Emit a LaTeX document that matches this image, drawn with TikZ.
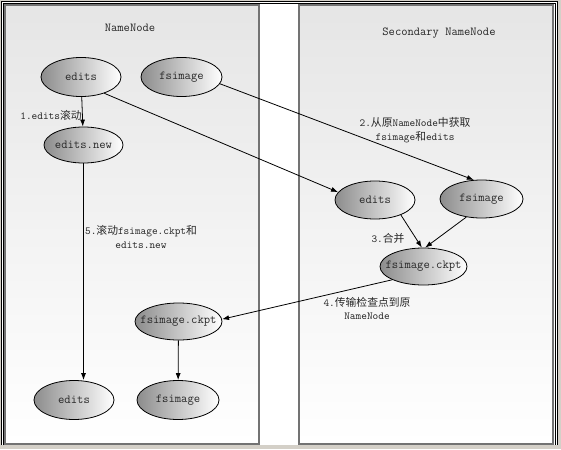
\documentclass[tikz,border=0pt]{standalone}
\usepackage{fontspec}
\newfontfamily\cjk{Noto Sans CJK SC}
\usetikzlibrary{shapes.geometric,arrows.meta}
\definecolor{winbg}{RGB}{212,208,200}
\definecolor{txt}{RGB}{40,40,40}
\tikzset{
  panel/.style={top color=black!10, bottom color=white, draw=black!55, line width=1.4pt},
  ell/.style={ellipse, draw=black, line width=0.8pt, left color=black!45, right color=white, inner sep=0pt},
  ntext/.style={font=\ttfamily\fontsize{12.3}{14}\selectfont, text=txt, inner sep=0pt},
  lbl/.style={font=\ttfamily\fontsize{10.8}{13.5}\selectfont, text=txt, align=center, inner sep=0pt},
  ttl/.style={font=\ttfamily\fontsize{12.2}{14}\selectfont, text=txt, inner sep=0pt},
  arr/.style={draw=black, line width=0.8pt, -{Latex[length=7pt,width=5pt]}}
}
\begin{document}
\begin{tikzpicture}[x=1pt,y=-1pt]
\useasboundingbox (0,0) rectangle (561,449);
% window background and frame
\fill[winbg] (0,0) rectangle (561,449);
\fill[white] (1,1) rectangle (558,445);
\draw[black, line width=0.9pt] (1.5,445) -- (1.5,1.5) -- (557.5,1.5) -- (557.5,445);
\draw[black, line width=0.9pt] (3.5,445) -- (3.5,3.5) -- (555.5,3.5) -- (555.5,445);
% panels
\path[panel] (5,5) rectangle (259,444);
\path[panel] (299,5) rectangle (553,444);
\node[ttl] (t1) at (130,28) {NameNode};
\node[ttl] (t2) at (439,33) {Secondary NameNode};
% nodes
\node[ell, minimum width=80, minimum height=39, label={[ntext]center:edits}] (e1) at (81,77) {};
\node[ell, minimum width=81, minimum height=39, label={[ntext]center:fsimage}] (f1) at (181.5,77) {};
\node[ell, minimum width=79, minimum height=36, label={[ntext]center:edits.new}] (en) at (83.5,145) {};
\node[ell, minimum width=80, minimum height=38, label={[ntext]center:edits}] (e2) at (375,200) {};
\node[ell, minimum width=83, minimum height=38, label={[ntext]center:fsimage}] (f2) at (481.5,199) {};
\node[ell, minimum width=87, minimum height=37, label={[ntext]center:fsimage.ckpt}] (c2) at (423.5,266.5) {};
\node[ell, minimum width=87, minimum height=37, label={[ntext]center:fsimage.ckpt}] (c1) at (178.5,321.5) {};
\node[ell, minimum width=80, minimum height=39, label={[ntext]center:edits}] (e3) at (74,400) {};
\node[ell, minimum width=82, minimum height=39, label={[ntext]center:fsimage}] (f3) at (178,400) {};
% connectors
\draw[arr] (e1) -- (en);
\draw[arr] (en.south) -- (en.south |- e3.north);
\draw[arr] (e1.-35) -- (e2.168);
\draw[arr] (f1.-10) -- (f2.112);
\draw[arr] (e2.-30) -- (c2.95);
\draw[arr] (f2.-130) -- (c2.85);
\draw[arr] (c2.203) -- (c1.3);
\draw[arr] (c1) -- (f3);
% labels
\node[lbl] (l1) at (51,115) {1.edits{\cjk 滚动}};
\node[lbl] (l2) at (415,130) {2.{\cjk 从原}NameNode{\cjk 中获取}\\fsimage{\cjk 和}edits};
\node[lbl] (l3) at (388,238) {3.{\cjk 合并}};
\node[lbl] (l4) at (367,308.5) {4.{\cjk 传输检查点到原}\\NameNode};
\node[lbl] (l5) at (141,237) {5.{\cjk 滚动}fsimage.ckpt{\cjk 和}\\edits.new};
\end{tikzpicture}
\end{document}
